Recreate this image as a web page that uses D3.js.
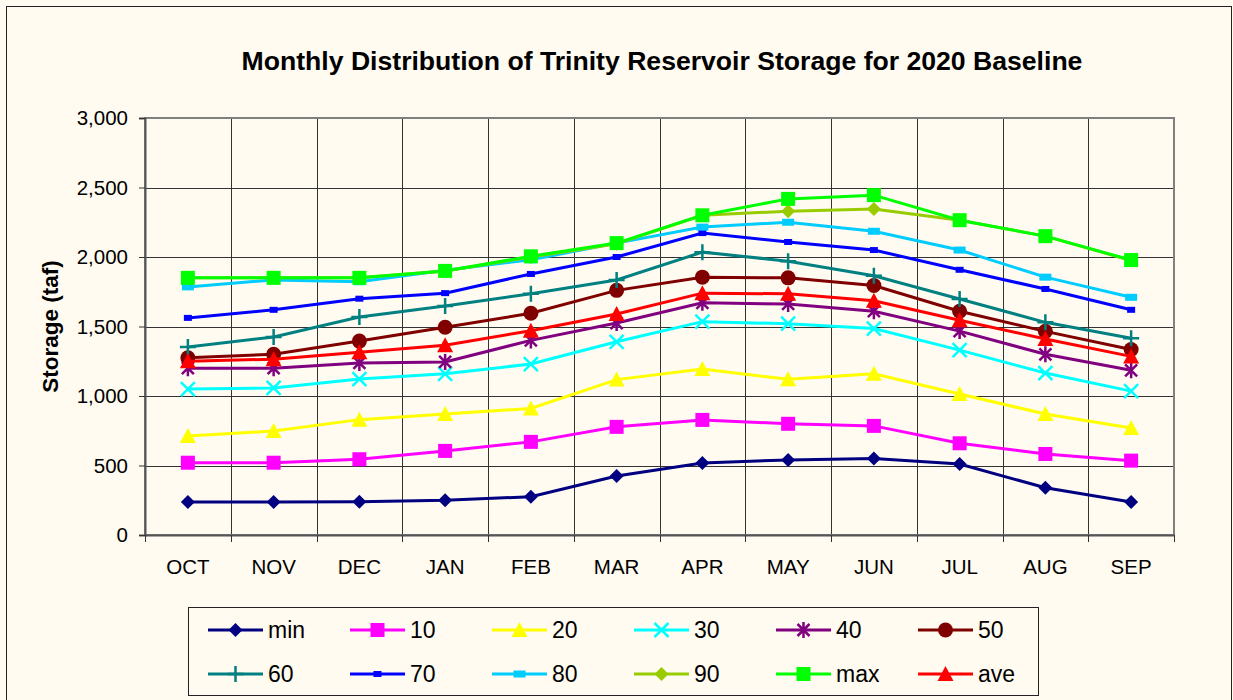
<!DOCTYPE html>
<html>
<head>
<meta charset="utf-8">
<script src="https://cdn.jsdelivr.net/npm/d3@7"></script>
<style>
  body { margin: 0; background: #fffbf0; }
  svg { display: block; font-family: "Liberation Sans", Arial, sans-serif; }
</style>
</head>
<body>
<div id="chart"></div>
<script>
var months = ["OCT","NOV","DEC","JAN","FEB","MAR","APR","MAY","JUN","JUL","AUG","SEP"];
var yTicks = [0, 500, 1000, 1500, 2000, 2500, 3000];

var sMin  = [237, 237, 240, 250, 275, 425, 518, 540, 550, 510, 340, 237];
var s10   = [520, 520, 545, 605, 670, 778, 828, 800, 785, 660, 583, 535];
var s20   = [712, 748, 830, 870, 910, 1118, 1195, 1120, 1160, 1015, 870, 770];
var s30   = [1050, 1058, 1122, 1160, 1230, 1390, 1535, 1520, 1485, 1330, 1165, 1035];
var s40   = [1200, 1200, 1238, 1245, 1400, 1525, 1670, 1662, 1610, 1467, 1300, 1185];
var s50   = [1275, 1300, 1395, 1495, 1595, 1760, 1855, 1850, 1795, 1610, 1465, 1335];
var s60   = [1352, 1425, 1568, 1648, 1735, 1835, 2035, 1970, 1865, 1698, 1530, 1415];
var s70   = [1562, 1620, 1700, 1740, 1878, 2000, 2172, 2108, 2050, 1908, 1770, 1620];
var s80   = [1785, 1835, 1822, 1905, 1980, 2100, 2215, 2250, 2185, 2050, 1855, 1710];
var s90   = [1850, 1850, 1850, 1900, 2000, 2095, 2300, 2330, 2345, 2265, 2150, 1975];
var sMax  = [1850, 1850, 1850, 1900, 2005, 2100, 2300, 2418, 2445, 2265, 2150, 1978];
var sAve  = [1250, 1265, 1315, 1365, 1470, 1590, 1740, 1735, 1685, 1545, 1410, 1285];

var series = [
  {name: "min", values: sMin, color: "#000080", marker: "diamond"},
  {name: "10",  values: s10,  color: "#ff00ff", marker: "square"},
  {name: "20",  values: s20,  color: "#ffff00", marker: "triangle"},
  {name: "30",  values: s30,  color: "#00ffff", marker: "x"},
  {name: "40",  values: s40,  color: "#800080", marker: "star"},
  {name: "50",  values: s50,  color: "#800000", marker: "circle"},
  {name: "60",  values: s60,  color: "#008080", marker: "plus"},
  {name: "70",  values: s70,  color: "#0000ff", marker: "dash"},
  {name: "80",  values: s80,  color: "#00ccff", marker: "dashwide"},
  {name: "90",  values: s90,  color: "#99cc00", marker: "diamond"},
  {name: "max", values: sMax, color: "#00ff00", marker: "square"},
  {name: "ave", values: sAve, color: "#ff0000", marker: "triangle"}
];

var W = 1233, H = 700;
var plot = {left: 145, top: 118, right: 1174, bottom: 535};

var svg = d3.select("#chart").append("svg")
    .attr("width", W).attr("height", H);

// outer chart border
svg.append("rect")
    .attr("x", 6.5).attr("y", 6.5)
    .attr("width", 1225).attr("height", 700)
    .attr("fill", "#fffbf0")
    .attr("stroke", "#222").attr("stroke-width", 1);

var x = d3.scaleBand().domain(months).range([plot.left, plot.right]);
var y = d3.scaleLinear().domain([0, 3000]).range([plot.bottom, plot.top]);

// grid
var grid = svg.append("g");
grid.selectAll(".hg").data(yTicks).enter().append("line")
    .attr("x1", plot.left).attr("x2", plot.right)
    .attr("y1", function(d) { return Math.round(y(d)) + 0.5; })
    .attr("y2", function(d) { return Math.round(y(d)) + 0.5; })
    .attr("stroke", "#333").attr("stroke-width", 1);
grid.selectAll(".vg").data(months.slice(1)).enter().append("line")
    .attr("x1", function(d) { return Math.round(x(d)) + 0.5; })
    .attr("x2", function(d) { return Math.round(x(d)) + 0.5; })
    .attr("y1", plot.top).attr("y2", plot.bottom)
    .attr("stroke", "#333").attr("stroke-width", 1);

// plot border
svg.append("rect")
    .attr("x", plot.left).attr("y", plot.top)
    .attr("width", plot.right - plot.left).attr("height", plot.bottom - plot.top)
    .attr("fill", "none").attr("stroke", "#808080").attr("stroke-width", 2);

// y axis
var yAxis = svg.append("g")
    .attr("transform", "translate(" + plot.left + ",0)")
    .call(d3.axisLeft(y).tickValues(yTicks).tickFormat(d3.format(",")).tickSizeOuter(0).tickSize(6).tickPadding(11));
yAxis.select(".domain").attr("stroke", "#555").attr("stroke-width", 2);
yAxis.selectAll(".tick line").attr("stroke", "#333");
yAxis.selectAll("text").attr("font-size", 20.5).attr("fill", "#000");

// x axis
var xEdges = months.map(function(m) { return x(m); }).concat([plot.right]);
var xAxis = svg.append("g")
    .attr("transform", "translate(0," + plot.bottom + ")")
    .call(d3.axisBottom(x).tickSize(0).tickPadding(24));
xAxis.select(".domain").attr("stroke", "#555").attr("stroke-width", 2);
xAxis.selectAll("text").attr("font-size", 20.5).attr("fill", "#000");
xAxis.selectAll(".edge").data(xEdges).enter().append("line")
    .attr("x1", function(d) { return Math.round(d) + 0.5; })
    .attr("x2", function(d) { return Math.round(d) + 0.5; })
    .attr("y1", 0).attr("y2", 7)
    .attr("stroke", "#333");

// titles
svg.append("text")
    .attr("x", 662).attr("y", 70)
    .attr("text-anchor", "middle")
    .attr("font-size", 26.6).attr("font-weight", "bold")
    .text("Monthly Distribution of Trinity Reservoir Storage for 2020 Baseline");

svg.append("text")
    .attr("transform", "translate(58," + ((plot.top + plot.bottom) / 2) + ") rotate(-90)")
    .attr("text-anchor", "middle")
    .attr("font-size", 22.5).attr("font-weight", "bold")
    .text("Storage (taf)");

function drawMarker(g, type, color) {
  if (type === "diamond") {
    g.append("path").attr("d", "M0,-7L7,0L0,7L-7,0Z").attr("fill", color);
  } else if (type === "square") {
    g.append("rect").attr("x", -7).attr("y", -7).attr("width", 14).attr("height", 14).attr("fill", color);
  } else if (type === "triangle") {
    g.append("path").attr("d", "M0,-8L8,7L-8,7Z").attr("fill", color);
  } else if (type === "x") {
    g.append("path").attr("d", "M-7,-7L7,7M-7,7L7,-7").attr("stroke", color).attr("stroke-width", 2.5);
  } else if (type === "star") {
    g.append("path").attr("d", "M-6,-6L6,6M-6,6L6,-6M0,-8L0,8").attr("stroke", color).attr("stroke-width", 2.5);
  } else if (type === "circle") {
    g.append("circle").attr("r", 7.5).attr("fill", color);
  } else if (type === "plus") {
    g.append("path").attr("d", "M-8,0L8,0M0,-8L0,8").attr("stroke", color).attr("stroke-width", 2.5);
  } else if (type === "dash") {
    g.append("rect").attr("x", -4).attr("y", -3).attr("width", 8).attr("height", 6).attr("fill", color);
  } else if (type === "dashwide") {
    g.append("rect").attr("x", -6).attr("y", -3.5).attr("width", 12).attr("height", 7).attr("fill", color);
  }
}

var line = d3.line()
    .x(function(d, i) { return x(months[i]) + x.bandwidth() / 2; })
    .y(function(d) { return y(d); });

series.forEach(function(s) {
  var g = svg.append("g");
  g.append("path")
      .datum(s.values)
      .attr("d", line)
      .attr("fill", "none")
      .attr("stroke", s.color)
      .attr("stroke-width", 3);
  g.selectAll(".mk").data(s.values).enter().append("g")
      .attr("transform", function(d, i) {
        return "translate(" + (x(months[i]) + x.bandwidth() / 2) + "," + y(d) + ")";
      })
      .each(function() { drawMarker(d3.select(this), s.marker, s.color); });
});

// legend
var legend = svg.append("g");
legend.append("rect")
    .attr("x", 188.5).attr("y", 607.5)
    .attr("width", 850).attr("height", 88)
    .attr("fill", "#fffbf0").attr("stroke", "#222").attr("stroke-width", 1);

var legItem = legend.selectAll(".li").data(series).enter().append("g")
    .attr("transform", function(d, i) {
      return "translate(" + (208 + (i % 6) * 142) + "," + (i < 6 ? 630 : 674) + ")";
    });
legItem.append("line")
    .attr("x1", 0).attr("x2", 55)
    .attr("stroke", function(d) { return d.color; })
    .attr("stroke-width", 3);
legItem.append("g")
    .attr("transform", "translate(27.5,0)")
    .each(function(d) { drawMarker(d3.select(this), d.marker, d.color); });
legItem.append("text")
    .attr("x", 60).attr("y", 8)
    .attr("font-size", 23)
    .text(function(d) { return d.name; });
</script>
</body>
</html>
